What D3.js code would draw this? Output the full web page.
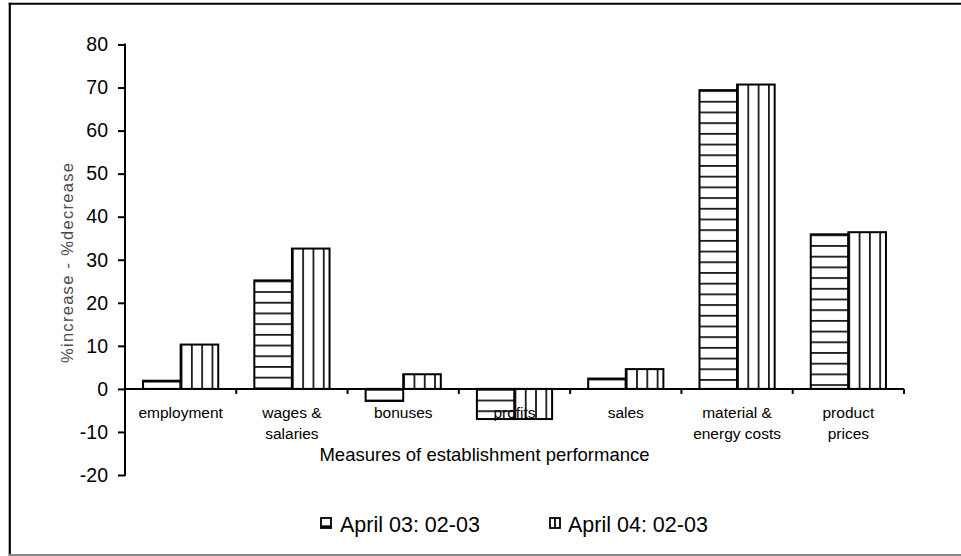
<!DOCTYPE html>
<html>
<head>
<meta charset="utf-8">
<script src="https://cdn.jsdelivr.net/npm/d3@7"></script>
<style>
  html, body { margin: 0; padding: 0; background: #fff; }
  svg { display: block; font-family: "Liberation Sans", Arial, sans-serif; }
</style>
</head>
<body>
<svg id="chart" width="961" height="556"></svg>
<script>
// ---- data ----
const categories = [
  ["employment"],
  ["wages &", "salaries"],
  ["bonuses"],
  ["profits"],
  ["sales"],
  ["material &", "energy costs"],
  ["product", "prices"]
];
const seriesNames = ["April 03: 02-03", "April 04: 02-03"];
const april03 = [1.9, 25.2, -2.8, -7.0, 2.4, 69.4, 35.9];
const april04 = [10.3, 32.6, 3.4, -7.0, 4.6, 70.7, 36.4];
const yTicks = [-20, -10, 0, 10, 20, 30, 40, 50, 60, 70, 80];
const yTitle = "%increase - %decrease";
const xTitle = "Measures of establishment performance";

// ---- layout ----
const svg = d3.select("#chart");
const pLeft = 125, pRight = 904, pTop = 44.5, pBottom = 475;

const x0 = d3.scaleBand().domain(d3.range(categories.length)).range([pLeft, pRight]).padding(0);
const x1 = d3.scaleBand().domain([0, 1]).range([0, x0.bandwidth()]).paddingInner(0).paddingOuter(0.48);
const y = d3.scaleLinear().domain([-20, 80]).range([pBottom, pTop]);

// frame
svg.append("line").attr("x1", 9.8).attr("x2", 9.8).attr("y1", 2.7).attr("y2", 556)
  .attr("stroke", "#000").attr("stroke-width", 2.2);
svg.append("line").attr("x1", 8.7).attr("x2", 961).attr("y1", 3.7).attr("y2", 3.7)
  .attr("stroke", "#000").attr("stroke-width", 2);
svg.append("line").attr("x1", 8.7).attr("x2", 961).attr("y1", 555).attr("y2", 555)
  .attr("stroke", "#888").attr("stroke-width", 2);

const defs = svg.append("defs");
const hSpacing = 10.7, vSpacing = 10.3;

const bars = [];
categories.forEach((c, i) => {
  [april03[i], april04[i]].forEach((v, s) => {
    const bx = x0(i) + x1(s);
    const bw = x1.bandwidth();
    const by = Math.min(y(v), y(0));
    const bh = Math.abs(y(v) - y(0));
    bars.push({i, s, v, bx, bw, by, bh});
  });
});

bars.forEach((b, k) => {
  const id = "pat" + k;
  if (b.s === 0) {
    const p = defs.append("pattern").attr("id", id).attr("patternUnits", "userSpaceOnUse")
      .attr("x", b.bx).attr("y", b.by).attr("width", 20).attr("height", hSpacing);
    p.append("rect").attr("width", 20).attr("height", hSpacing).attr("fill", "#fff");
    p.append("line").attr("x1", 0).attr("x2", 20).attr("y1", 0).attr("y2", 0)
      .attr("stroke", "#1a1a1a").attr("stroke-width", 3.6);
  } else {
    const p = defs.append("pattern").attr("id", id).attr("patternUnits", "userSpaceOnUse")
      .attr("x", b.bx).attr("y", b.by).attr("width", vSpacing).attr("height", 20);
    p.append("rect").attr("width", vSpacing).attr("height", 20).attr("fill", "#fff");
    p.append("line").attr("x1", 0).attr("x2", 0).attr("y1", 0).attr("y2", 20)
      .attr("stroke", "#1a1a1a").attr("stroke-width", 3.6);
  }
  svg.append("rect").attr("x", b.bx).attr("y", b.by).attr("width", b.bw).attr("height", b.bh)
    .attr("fill", `url(#${id})`).attr("stroke", "#000").attr("stroke-width", 2);
});

// y axis
const yAxis = d3.axisLeft(y).tickValues(yTicks).tickSize(7).tickPadding(10).tickFormat(d => String(d));
const gy = svg.append("g").attr("transform", `translate(${pLeft},0)`).call(yAxis);
gy.select(".domain").remove();
gy.append("line").attr("x1", 0).attr("x2", 0).attr("y1", pTop - 1).attr("y2", pBottom + 1)
  .attr("stroke", "#000").attr("stroke-width", 2);
gy.selectAll(".tick line").attr("stroke", "#000").attr("stroke-width", 2);
gy.selectAll(".tick text").attr("font-size", 19.5).attr("fill", "#000")
  .attr("font-family", "Liberation Sans, Arial, sans-serif");

// x axis (at zero)
const gx = svg.append("g");
gx.append("line").attr("x1", pLeft).attr("x2", pRight).attr("y1", y(0)).attr("y2", y(0))
  .attr("stroke", "#000").attr("stroke-width", 2);
gx.selectAll(".xt").data(d3.range(1, categories.length + 1)).join("line")
  .attr("x1", d => x0.step() * d + pLeft).attr("x2", d => x0.step() * d + pLeft)
  .attr("y1", y(0)).attr("y2", y(0) + 5)
  .attr("stroke", "#000").attr("stroke-width", 2);

// category labels
categories.forEach((lines, i) => {
  const t = svg.append("text").attr("x", x0(i) + x0.bandwidth() / 2).attr("y", 417.5)
    .attr("text-anchor", "middle").attr("font-size", 15.5).attr("fill", "#000");
  lines.forEach((ln, j) => {
    t.append("tspan").attr("x", x0(i) + x0.bandwidth() / 2).attr("dy", j === 0 ? 0 : 21).text(ln);
  });
});

// axis titles
svg.append("text").attr("x", 484.5).attr("y", 461).attr("text-anchor", "middle")
  .attr("font-size", 18.5).attr("fill", "#000").text(xTitle);

svg.append("text").attr("transform", "translate(72.5,263) rotate(-90)")
  .attr("text-anchor", "middle").attr("font-size", 16.5).attr("fill", "#4a4a4a")
  .attr("textLength", 200).attr("lengthAdjust", "spacing").text(yTitle);

// legend
const legendX = [321, 550];
const legendTextX = [340, 568];
seriesNames.forEach((name, s) => {
  const g = svg.append("g");
  const lx = legendX[s], ly = 518, sz = 10;
  g.append("rect").attr("x", lx).attr("y", ly).attr("width", sz).attr("height", sz)
    .attr("fill", "#fff").attr("stroke", "#000").attr("stroke-width", 1.8);
  if (s === 0) {
    g.append("line").attr("x1", lx).attr("x2", lx + sz).attr("y1", ly + sz - 1.5).attr("y2", ly + sz - 1.5)
      .attr("stroke", "#000").attr("stroke-width", 2.2);
  } else {
    g.append("line").attr("x1", lx + sz / 2).attr("x2", lx + sz / 2).attr("y1", ly).attr("y2", ly + sz)
      .attr("stroke", "#000").attr("stroke-width", 1.8);
  }
  g.append("text").attr("x", legendTextX[s]).attr("y", 532).attr("font-size", 21.5)
    .attr("fill", "#000").text(name);
});
</script>
</body>
</html>
